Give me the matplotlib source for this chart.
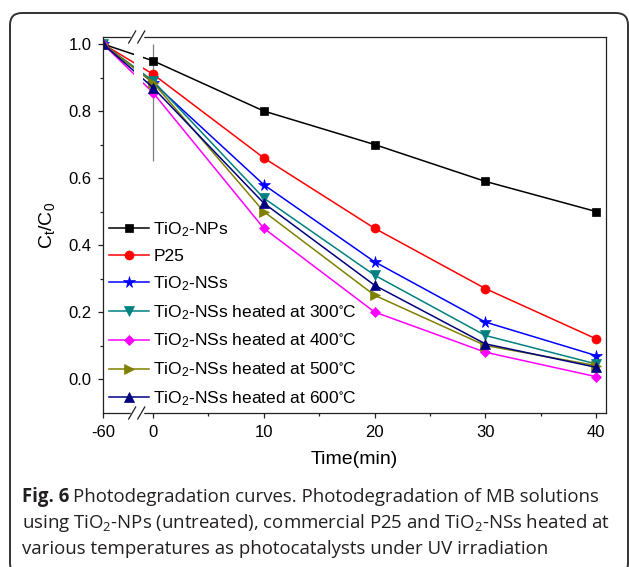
import matplotlib
matplotlib.use("Agg")
import matplotlib.pyplot as plt
import numpy as np
from matplotlib.patches import FancyBboxPatch
from matplotlib.transforms import IdentityTransform

plt.rcParams["font.family"] = ["Liberation Sans", "DejaVu Sans"]
plt.rcParams["axes.unicode_minus"] = False

# data
time = [-60, 0, 10, 20, 30, 40]
tio2_nps = [1.0, 0.95, 0.80, 0.70, 0.59, 0.50]
p25 = [1.0, 0.91, 0.66, 0.45, 0.27, 0.12]
tio2_nss = [1.0, 0.885, 0.58, 0.35, 0.17, 0.07]
nss_300 = [1.0, 0.89, 0.54, 0.31, 0.13, 0.045]
nss_400 = [1.0, 0.855, 0.45, 0.20, 0.08, 0.007]
nss_500 = [1.0, 0.885, 0.50, 0.25, 0.10, 0.04]
nss_600 = [1.0, 0.87, 0.525, 0.28, 0.105, 0.035]

labels = [
    r"TiO$\mathregular{_2}$-NPs",
    "P25",
    r"TiO$\mathregular{_2}$-NSs",
    r"TiO$\mathregular{_2}$-NSs heated at 300$\mathregular{^{\circ}}$C",
    r"TiO$\mathregular{_2}$-NSs heated at 400$\mathregular{^{\circ}}$C",
    r"TiO$\mathregular{_2}$-NSs heated at 500$\mathregular{^{\circ}}$C",
    r"TiO$\mathregular{_2}$-NSs heated at 600$\mathregular{^{\circ}}$C",
]
series = [tio2_nps, p25, tio2_nss, nss_300, nss_400, nss_500, nss_600]
colors = ["#000000", "#FF0000", "#0000FF", "#008080", "#FF00FF", "#808000", "#000080"]
markers = ["s", "o", "*", "v", "D", ">", "^"]
msizes = [5.5, 6.5, 8.5, 6.5, 5.5, 6.5, 6.5]

# broken x axis: compress everything left of the break
BRK = -1.35
K = 0.054


def fwd(x):
    x = np.asarray(x, dtype=float)
    return np.where(x < BRK, BRK + (x - BRK) * K, x)


def inv(x):
    x = np.asarray(x, dtype=float)
    return np.where(x < BRK, BRK + (x - BRK) / K, x)


fig = plt.figure(figsize=(6.29, 5.67), dpi=100)
ax = fig.add_axes([103 / 629, 1 - 413 / 567, 503 / 629, 376 / 567])
ax.set_xscale("function", functions=(fwd, inv))

for ys, c, m, ms, lab in zip(series, colors, markers, msizes, labels):
    ax.plot(time, ys, color=c, marker=m, markersize=ms, lw=1.1, label=lab,
            markeredgewidth=0.5)

ax.vlines(0, 0.65, 1.0, color="#7f7f7f", lw=0.9, zorder=1.5)

# gap in the lines at the break
ax.axvspan(-8.2, -0.9, color="white", zorder=2.2, lw=0)

ax.set_xlim(-60, 40.9)
ax.set_ylim(-0.1015, 1.021)
ax.set_xticks([-60, 0, 10, 20, 30, 40])
ax.set_xticks([5, 15, 25, 35], minor=True)
ax.set_yticks([0.0, 0.2, 0.4, 0.6, 0.8, 1.0])
ax.set_yticks([0.1, 0.3, 0.5, 0.7, 0.9], minor=True)
ax.set_yticklabels(["0.0", "0.2", "0.4", "0.6", "0.8", "1.0"])
ax.tick_params(axis="both", which="major", length=3.8, width=0.9, labelsize=12,
               color="#222222", direction="out")
ax.tick_params(axis="both", which="minor", length=2.3, width=0.9, color="#222222",
               direction="out")
ax.tick_params(axis="x", pad=4.5)
ax.tick_params(axis="y", pad=4.5)
for s in ax.spines.values():
    s.set_color("#222222")
    s.set_linewidth(0.9)

# break marks on top and bottom spines
for yb in (0.0, 1.0):
    ax.plot([0.058, 0.078], [yb, yb], transform=ax.transAxes, color="white",
            lw=2.5, clip_on=False, zorder=5)
    for xc in (0.058, 0.076):
        ax.plot([xc - 0.007, xc + 0.007], [yb - 0.016, yb + 0.016],
                transform=ax.transAxes, color="#222222", lw=0.9,
                clip_on=False, zorder=6)

ax.set_xlabel("Time(min)", fontsize=14, labelpad=8)
fig.text(47 / 629, 1 - 225 / 567, r"C$\mathregular{_t}$/C$\mathregular{_0}$",
         rotation=90, ha="center", va="center", fontsize=14)

ax.legend(loc="upper left", bbox_to_anchor=(-0.002, 0.532), frameon=False,
          fontsize=12.5, handlelength=2.3, handletextpad=0.25,
          labelspacing=0.585, borderaxespad=0)

# rounded frame around the figure panel
frame = FancyBboxPatch((10, -8), 618, 567 - 13 + 8,
                       boxstyle="round,pad=0,rounding_size=12",
                       transform=IdentityTransform(), fill=False,
                       edgecolor="#333333", lw=1.4)
fig.patches.append(frame)

# caption
cap_font = dict(family="Open Sans", fontsize=13.4, color="#231f20",
                ha="left", va="baseline")
x0 = 22 / 629
head = fig.text(x0, 1 - 502 / 567, "Fig. 6", weight="bold", **cap_font)
renderer = fig.canvas.get_renderer()
bb = head.get_window_extent(renderer=renderer)
fig.text((bb.x1 + 4) / 629, 1 - 502 / 567,
         "Photodegradation curves. Photodegradation of MB solutions", **cap_font)
fig.text(x0, 1 - 528 / 567,
         r"using TiO$\mathregular{_2}$-NPs (untreated), commercial P25 and "
         r"TiO$\mathregular{_2}$-NSs heated at", **cap_font)
fig.text(x0, 1 - 554 / 567,
         "various temperatures as photocatalysts under UV irradiation", **cap_font)

fig.savefig("out.png", dpi=100)
